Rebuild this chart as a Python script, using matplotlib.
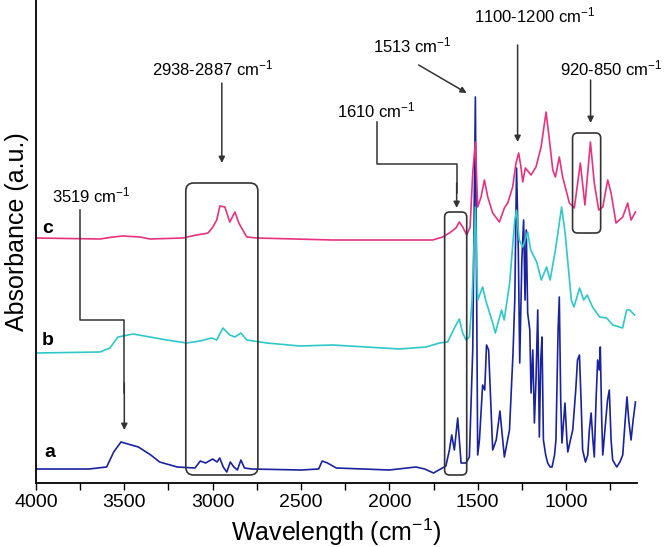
import numpy as np
import matplotlib
matplotlib.use('Agg')
import matplotlib.pyplot as plt
from matplotlib.patches import FancyBboxPatch

plt.rcParams['font.family'] = ['Liberation Sans', 'DejaVu Sans']
plt.rcParams['mathtext.fontset'] = 'custom'
plt.rcParams['mathtext.rm'] = 'Liberation Sans'
plt.rcParams['mathtext.it'] = 'Liberation Sans'

# spectrum a (dark blue)
wn_a = [4000, 3700, 3600, 3560, 3519, 3480, 3420, 3350, 3300, 3200, 3100, 3070, 3040, 3000,
        2975, 2960, 2940, 2920, 2900, 2880, 2860, 2840, 2820, 2780, 2500, 2400, 2380, 2350,
        2300, 2000, 1850, 1800, 1750, 1700, 1680, 1660, 1647, 1632, 1613, 1594, 1566, 1547,
        1528, 1513, 1500, 1490, 1472, 1460, 1450, 1438, 1415, 1395, 1374, 1349, 1320, 1300,
        1290, 1280, 1270, 1262, 1250, 1240, 1232, 1225, 1217, 1205, 1198, 1188, 1179, 1170,
        1160, 1151, 1143, 1136, 1128, 1115, 1104, 1090, 1079, 1065, 1057, 1045, 1038, 1030,
        1023, 1013, 1006, 995, 990, 975, 962, 945, 935, 924, 915, 906, 890, 877, 868, 858,
        848, 840, 830, 821, 812, 806, 798, 792, 775, 765, 755, 745, 736, 713, 695, 679, 665,
        655, 645, 632, 620, 607]
abs_a = [14, 14, 16, 31, 41, 39, 36, 28, 21, 16, 15, 22, 20, 24,
         21, 25, 16, 11, 21, 16, 13, 23, 15, 14, 13, 14, 22, 20,
         15, 13, 16, 14, 10, 15, 17, 33, 48, 33, 65, 20, 20, 26,
         133, 386, 28, 43, 98, 93, 138, 133, 33, 43, 72, 26, 53, 130,
         183, 315, 233, 120, 223, 263, 183, 253, 170, 153, 90, 133, 60, 103,
         173, 46, 123, 146, 43, 28, 20, 16, 16, 28, 43, 153, 186, 83,
         40, 63, 80, 43, 31, 43, 53, 93, 123, 128, 83, 33, 21, 28, 53, 70,
         43, 26, 83, 123, 113, 136, 63, 28, 63, 83, 93, 43, 23, 16, 21, 28, 63,
         86, 63, 43, 63, 81]

# spectrum b (cyan)
wn_b = [4000, 3638, 3581, 3536, 3450, 3355, 3260, 3146, 3072, 3005, 2977, 2942, 2903, 2874,
        2840, 2807, 2693, 2507, 2320, 2132, 1943, 1792, 1717, 1670, 1632, 1604, 1585, 1566,
        1547, 1532, 1513, 1500, 1472, 1455, 1415, 1400, 1365, 1350, 1319, 1290, 1280, 1265,
        1245, 1217, 1200, 1166, 1140, 1110, 1090, 1060, 1025, 1005, 970, 955, 923, 900, 880,
        850, 810, 770, 735, 697, 680, 657, 640, 612]
abs_b = [130, 131, 135, 146, 149, 146, 143, 140, 142, 145, 143, 155, 148, 146,
         150, 143, 140, 137, 138, 136, 134, 136, 140, 141, 155, 164, 150, 143,
         146, 183, 276, 183, 196, 183, 160, 150, 173, 163, 200, 263, 273, 243,
         236, 251, 233, 221, 203, 216, 203, 233, 276, 250, 183, 176, 195, 183, 188,
         176, 166, 165, 158, 156, 155, 173, 173, 168]

# spectrum c (pink)
wn_c = [4000, 3638, 3564, 3508, 3412, 3355, 3168, 3092, 3054, 3026, 2999, 2977, 2959, 2931,
        2903, 2874, 2852, 2807, 2750, 2320, 1755, 1698, 1660, 1623, 1604, 1585, 1562, 1543,
        1528, 1513, 1500, 1481, 1462, 1443, 1415, 1377, 1349, 1330, 1302, 1283, 1268, 1255,
        1245, 1230, 1198, 1170, 1141, 1113, 1094, 1075, 1060, 1038, 1019, 981, 953, 919, 893,
        862, 840, 815, 792, 764, 745, 717, 679, 651, 632, 607]
abs_c = [245, 244, 246, 247, 246, 244, 245, 248, 249, 250, 256, 263, 277, 276,
         261, 271, 260, 246, 245, 243, 243, 246, 250, 255, 261, 256, 248, 256,
         310, 341, 276, 286, 303, 286, 270, 261, 275, 280, 296, 320, 330, 316,
         301, 315, 308, 316, 336, 371, 343, 313, 306, 326, 306, 280, 275, 320, 278,
         341, 300, 273, 276, 303, 290, 260, 266, 280, 263, 271]

labels = ['a', 'b', 'c']
colors = ['#1a22a0', '#2ec8c8', '#e6327f']

fig = plt.figure(figsize=(6.66, 5.47), dpi=100)
ax = fig.add_axes([0.054, 0.117, 0.902, 0.883])

for wn, ab, col in zip([wn_a, wn_b, wn_c], [abs_a, abs_b, abs_c], colors):
    ax.plot(wn, ab, color=col, lw=1.2)

ax.set_xlim(4000, 600)
ax.set_ylim(0, 483)
ax.set_yticks([])
ax.set_xticks([4000, 3500, 3000, 2500, 2000, 1500, 1000])
ax.set_xticks(np.arange(3750, 600, -500), minor=True)
ax.tick_params(axis='x', which='both', direction='out', length=5, width=1, labelsize=14, pad=3)
for s in ['top', 'right']:
    ax.spines[s].set_visible(False)
for s in ['left', 'bottom']:
    ax.spines[s].set_linewidth(1.3)

ax.set_xlabel('Wavelength (cm$^{-1}$)', fontsize=18, labelpad=4)
ax.set_ylabel('Absorbance (a.u.)', fontsize=18)
ax.yaxis.set_label_coords(-0.012, 0.52)

# curve letters
for lab, wn, yv in zip(labels, [3920, 3935, 3935], [31, 143, 255]):
    ax.text(wn, yv, lab, fontsize=14, fontweight='bold', ha='center', va='center')

lc = '#333333'
aprops = dict(arrowstyle='-|>', color=lc, lw=1.1, mutation_scale=9, shrinkA=0, shrinkB=0)

fig.canvas.draw()
p0 = ax.transData.transform((4000, 0))
p1 = ax.transData.transform((3000, 100))
xpp = 1000 / abs(p1[0] - p0[0])
ypp = 100 / abs(p1[1] - p0[1])


def rbox(x0, x1, y0, y1, r=8):
    box = FancyBboxPatch((x1, y0), x0 - x1, y1 - y0,
                         boxstyle='round,pad=0,rounding_size=%f' % (r * xpp),
                         mutation_aspect=ypp / xpp, fc='none', ec=lc, lw=1.2, zorder=5)
    ax.add_patch(box)


fs = 12
# 3519
ax.text(3689, 288, '3519 cm$^{-1}$', fontsize=fs, ha='center', va='center')
ax.plot([3750, 3750, 3500, 3500], [273, 163, 163, 90], color=lc, lw=1.1)
ax.annotate('', xy=(3500, 53), xytext=(3500, 100), arrowprops=aprops)

# 2938-2887
ax.text(3000, 415, '2938-2887 cm$^{-1}$', fontsize=fs, ha='center', va='center')
ax.annotate('', xy=(2948, 320), xytext=(2948, 400), arrowprops=aprops)
rbox(3152, 2744, 8, 300)

# 1610
ax.text(2075, 373, '1610 cm$^{-1}$', fontsize=fs, ha='center', va='center')
ax.plot([2070, 2070, 1619, 1619], [361, 319, 319, 290], color=lc, lw=1.1)
ax.annotate('', xy=(1619, 275), xytext=(1619, 300), arrowprops=aprops)
rbox(1687, 1562, 8, 271, r=5)

# 1513
ax.text(1868, 438, '1513 cm$^{-1}$', fontsize=fs, ha='center', va='center')
ax.annotate('', xy=(1562, 390), xytext=(1834, 418), arrowprops=aprops)

# 1100-1200
ax.text(1178, 468, '1100-1200 cm$^{-1}$', fontsize=fs, ha='center', va='center')
ax.annotate('', xy=(1274, 341), xytext=(1274, 438), arrowprops=aprops)

# 920-850
ax.text(742, 415, '920-850 cm$^{-1}$', fontsize=fs, ha='center', va='center')
ax.annotate('', xy=(861, 360), xytext=(861, 403), arrowprops=aprops)
rbox(963, 804, 250, 350, r=5)

fig.savefig('out.png', dpi=100)
